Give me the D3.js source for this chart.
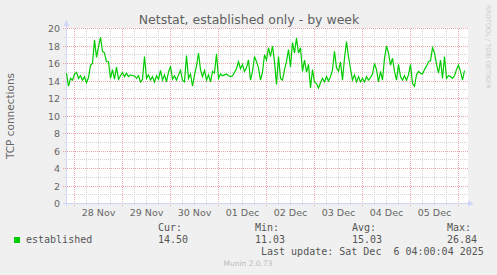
<!DOCTYPE html>
<html>
<head>
<meta charset="utf-8">
<script src="https://cdn.jsdelivr.net/npm/d3@7"></script>
<style>
  body { margin: 0; background: #f0f0f0; }
  svg { display: block; }
  text { white-space: pre; }
</style>
</head>
<body>
<div id="chart"></div>
<script>
// Datos: conexiones TCP establecidas, un valor por hora
const startTime = new Date(2025, 10, 27, 20, 0); // 27 Nov 20:00
const endTime = new Date(2025, 11, 6, 4, 0);     // 06 Dec 04:00

const established = [
  14.9, 13.4, 14.3, 14.1, 14.8, 15.0, 14.3, 14.6, 14.1, 14.5,
  13.8, 14.4, 15.8, 16.0, 18.7, 16.7, 17.9, 19.0, 17.4, 17.2,
  16.2, 16.2, 14.3, 15.3, 14.2, 15.6, 14.2, 14.6, 15.0, 14.5,
  14.9, 14.5, 14.7, 14.6, 14.6, 14.3, 14.6, 13.9, 14.2, 16.8,
  14.3, 14.7, 14.1, 14.5, 13.9, 14.6, 14.2, 15.2, 14.1, 14.7,
  13.9, 15.0, 15.7, 14.2, 14.6, 14.1, 14.7, 15.2, 14.1, 13.9,
  16.9, 14.3, 14.8, 13.4, 14.7, 15.7, 17.2, 15.3, 14.5, 15.2,
  14.1, 14.7, 13.9, 15.1, 14.9, 17.1, 14.3, 14.8, 14.6, 14.7,
  14.8, 14.6, 14.5, 14.6, 15.0, 15.4, 16.2, 15.4, 15.9, 15.1,
  15.5, 16.4, 14.1, 15.1, 16.8, 16.2, 15.5, 14.1, 15.0, 17.0,
  16.4, 17.8, 16.8, 18.0, 16.2, 13.6, 16.8, 14.3, 14.1, 15.3,
  16.2, 17.6, 15.6, 18.4, 17.2, 18.9, 17.2, 17.8, 15.1, 16.4,
  15.0, 15.9, 13.2, 15.3, 13.9, 13.7, 13.2, 13.8, 14.3, 13.9,
  14.5, 14.0, 14.5, 15.3, 17.4, 15.5, 15.1, 16.2, 14.1, 16.6,
  18.5, 16.8, 15.4, 14.1, 14.7, 13.9, 14.5, 13.9, 14.3, 13.9,
  14.5, 14.1, 14.4, 14.8, 16.0, 15.3, 13.9, 15.1, 14.1, 16.6,
  18.0, 17.2, 15.8, 16.6, 15.1, 14.1, 15.9, 14.5, 14.1, 14.6,
  14.1, 14.7, 15.9, 13.7, 13.4, 14.7, 15.1, 14.9, 14.8, 15.3,
  15.7, 16.2, 16.3, 17.8, 17.2, 15.9, 14.9, 16.4, 14.3, 16.8,
  14.3, 14.6, 14.5, 14.3, 14.6, 15.3, 15.8, 15.1, 14.1, 15.2
];

const dayLabels = ["28 Nov", "29 Nov", "30 Nov", "01 Dec", "02 Dec", "03 Dec", "04 Dec", "05 Dec"];
const yTicks = [0, 2, 4, 6, 8, 10, 12, 14, 16, 18, 20];
const legendHeads = ["Cur:", "Min:", "Avg:", "Max:"];
const legendValues = ["14.50", "11.03", "15.03", "26.84"];

const W = 497, H = 275;
const plot = { left: 66.5, right: 466.5, top: 28.5, bottom: 203.5 };
const sans = "'DejaVu Sans', sans-serif";
const mono = "'DejaVu Sans Mono', monospace";

const svg = d3.select("#chart").append("svg")
    .attr("width", W)
    .attr("height", H);

svg.append("rect").attr("width", W).attr("height", H).attr("fill", "#f0f0f0");

// Escalas
const x = d3.scaleTime()
    .domain([startTime, endTime])
    .range([plot.left, plot.right]);

const y = d3.scaleLinear()
    .domain([0, 20])
    .range([plot.bottom, plot.top]);

// Lienzo blanco
svg.append("rect")
    .attr("x", 67).attr("y", 28)
    .attr("width", 401).attr("height", 175.5)
    .attr("fill", "#ffffff");

// Rejilla menor
const grid = svg.append("g").attr("shape-rendering", "crispEdges");
d3.range(1, 20, 2).forEach(v => {
    grid.append("line")
        .attr("x1", 64).attr("x2", 468)
        .attr("y1", y(v)).attr("y2", y(v))
        .attr("stroke", "#d4d4d4").attr("stroke-dasharray", "1,1");
});
d3.timeHour.every(6).range(startTime, endTime)
    .filter(t => t.getHours() !== 0)
    .forEach(t => {
        grid.append("line")
            .attr("x1", x(t)).attr("x2", x(t))
            .attr("y1", plot.top).attr("y2", 206)
            .attr("stroke", "#d4d4d4").attr("stroke-dasharray", "1,1");
    });

// Rejilla mayor
yTicks.filter(v => v > 0).forEach(v => {
    grid.append("line")
        .attr("x1", 63).attr("x2", 468)
        .attr("y1", y(v)).attr("y2", y(v))
        .attr("stroke", "#eda6a6").attr("stroke-dasharray", "1,1");
});
d3.timeDay.range(startTime, endTime).forEach(t => {
    grid.append("line")
        .attr("x1", x(t)).attr("x2", x(t))
        .attr("y1", plot.top).attr("y2", 207)
        .attr("stroke", "#eda6a6").attr("stroke-dasharray", "1,1");
});

// Ejes y flechas
const axisColor = "#cfd6f8";
grid.append("line")
    .attr("x1", 63).attr("x2", 469)
    .attr("y1", plot.bottom).attr("y2", plot.bottom)
    .attr("stroke", axisColor);
grid.append("line")
    .attr("x1", plot.left).attr("x2", plot.left)
    .attr("y1", 206).attr("y2", 24)
    .attr("stroke", axisColor);
svg.append("path")
    .attr("d", "M63.5,26 L69.5,26 L66.5,20 Z")
    .attr("fill", axisColor);
svg.append("path")
    .attr("d", "M468,200.5 L468,206.5 L474,203.5 Z")
    .attr("fill", axisColor);

// Etiquetas eje y
svg.append("g").selectAll("text")
    .data(yTicks)
    .join("text")
    .attr("x", 60)
    .attr("y", d => y(d) + 3.5)
    .attr("text-anchor", "end")
    .attr("font-family", sans)
    .attr("font-size", "9.5px")
    .attr("fill", "#666")
    .text(d => d);

// Etiquetas eje x (al mediodía de cada día)
svg.append("g").selectAll("text")
    .data(dayLabels)
    .join("text")
    .attr("x", (d, i) => x(new Date(2025, 10, 28 + i, 12)))
    .attr("y", 216)
    .attr("text-anchor", "middle")
    .attr("font-family", sans)
    .attr("font-size", "9.5px")
    .attr("fill", "#666")
    .text(d => d);

// Línea de datos
const line = d3.line()
    .x((d, i) => x(d3.timeHour.offset(startTime, i)))
    .y(d => y(d));

svg.append("path")
    .datum(established)
    .attr("d", line)
    .attr("fill", "none")
    .attr("stroke", "#00cc00")
    .attr("stroke-width", 1.2);

// Títulos
svg.append("text")
    .attr("x", 249).attr("y", 24)
    .attr("text-anchor", "middle")
    .attr("font-family", sans)
    .attr("font-size", "12.5px")
    .attr("fill", "#606060")
    .text("Netstat, established only - by week");

svg.append("text")
    .attr("transform", "translate(14,116) rotate(-90)")
    .attr("text-anchor", "middle")
    .attr("font-family", sans)
    .attr("font-size", "10.5px")
    .attr("fill", "#666")
    .text("TCP connections");

svg.append("text")
    .attr("transform", "translate(486,5) rotate(90)")
    .attr("font-family", sans)
    .attr("font-size", "6.5px")
    .attr("fill", "#cccccc")
    .text("RRDTOOL / TOBI OETIKER");

// Leyenda
svg.append("rect")
    .attr("x", 14).attr("y", 237)
    .attr("width", 6).attr("height", 6)
    .attr("fill", "#00cc00");

svg.append("text")
    .attr("x", 26).attr("y", 243)
    .attr("font-family", mono).attr("font-size", "10px").attr("fill", "#555")
    .text("established");

const colX = [158, 255, 352, 447];
svg.append("g").selectAll("text")
    .data(legendHeads)
    .join("text")
    .attr("x", (d, i) => colX[i]).attr("y", 231)
    .attr("font-family", mono).attr("font-size", "10px").attr("fill", "#555")
    .text(d => d);
svg.append("g").selectAll("text")
    .data(legendValues)
    .join("text")
    .attr("x", (d, i) => colX[i]).attr("y", 243)
    .attr("font-family", mono).attr("font-size", "10px").attr("fill", "#555")
    .text(d => d);

svg.append("text")
    .attr("x", 261).attr("y", 255)
    .attr("font-family", mono).attr("font-size", "10px").attr("fill", "#555")
    .text("Last update: Sat Dec  6 04:00:04 2025");

svg.append("text")
    .attr("x", 248).attr("y", 266)
    .attr("text-anchor", "middle")
    .attr("font-family", sans)
    .attr("font-size", "7.5px")
    .attr("fill", "#bbb")
    .text("Munin 2.0.73");
</script>
</body>
</html>
